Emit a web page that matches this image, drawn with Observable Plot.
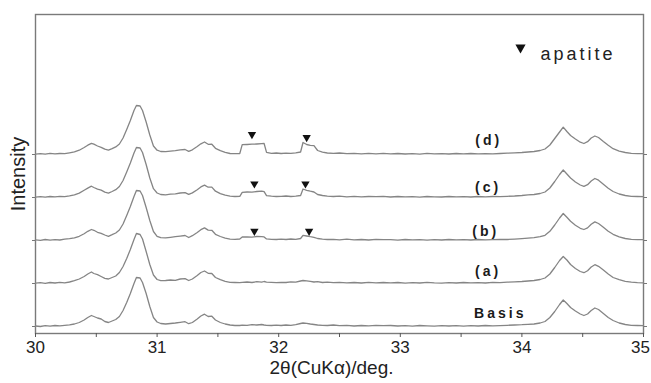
<!DOCTYPE html>
<html><head><meta charset="utf-8">
<script src="https://cdn.jsdelivr.net/npm/d3@7"></script>
<script src="https://cdn.jsdelivr.net/npm/@observablehq/plot@0.6"></script>
<style>
body{margin:0;background:#fff;}
g[aria-description="trace-label"] text{letter-spacing:3px;}
g[aria-description="legend-text"] text{letter-spacing:3px;}
</style></head><body><div id="chart"></div>
<script>
// 2θ grid (deg.)
const twoTheta = [
  30.00, 30.04, 30.08, 30.12, 30.16, 30.20, 30.24, 30.28, 30.32, 30.36,
  30.40, 30.43, 30.46, 30.48, 30.51, 30.54, 30.57, 30.60, 30.63, 30.66,
  30.69, 30.72, 30.75, 30.78, 30.81, 30.83, 30.86, 30.88, 30.91, 30.94,
  30.97, 31.00, 31.03, 31.07, 31.11, 31.15, 31.19, 31.23, 31.26, 31.29,
  31.33, 31.36, 31.39, 31.42, 31.45, 31.48, 31.52, 31.56, 31.60, 31.64,
  31.68, 31.70, 31.74, 31.78, 31.82, 31.86, 31.88, 31.90, 31.94, 31.98,
  32.02, 32.06, 32.10, 32.14, 32.18, 32.20, 32.23, 32.26, 32.29, 32.32,
  32.36, 32.40, 32.45, 32.50, 32.56, 32.62, 32.68, 32.74, 32.80, 32.86,
  32.92, 32.98, 33.04, 33.10, 33.16, 33.22, 33.28, 33.34, 33.40, 33.46,
  33.52, 33.58, 33.64, 33.70, 33.76, 33.82, 33.88, 33.94, 34.00, 34.05,
  34.10, 34.15, 34.19, 34.23, 34.27, 34.31, 34.34, 34.37, 34.40, 34.44,
  34.48, 34.51, 34.54, 34.57, 34.60, 34.63, 34.67, 34.71, 34.75, 34.80,
  34.85, 34.90, 34.95, 35.00
];

const seriesNames = ["Basis", "(a)", "(b)", "(c)", "(d)"];
// vertical stacking offsets (intensity units)
const offsets = [7, 50, 93, 136, 179];

const intensityBasis = [
  0.5, 0, 0.8, 0.3, 1, 0.6, 1.2, 1.6, 2.5, 4,
  6.5, 9, 11, 10, 8.5, 7.5, 5, 4, 5.5, 7,
  10, 16, 24, 33, 43, 49, 48.5, 44, 33, 20,
  9, 4.5, 3, 2.5, 3, 3.5, 4.2, 4.8, 2.8, 4,
  7.5, 10.5, 12.3, 10, 10.3, 6.5, 4, 2.5, 1.5, 1,
  1, 1.4, 1.2, 1.8, 1.5, 2, 1.5, 1.2, 1, 1.3,
  1, 1.5, 1.2, 1.8, 3, 3.5, 3.2, 2.5, 2, 1.5,
  1.2, 1, 1.5, 0.8, 1.2, 0.5, 1, 0.6, 1.2, 0.8,
  1, 0.5, 0.8, 0.4, 1, 0.6, 0.3, 0.8, 0.5, 0.9,
  0.4, 0.8, 0.5, 1, 0.6, 0.9, 1.2, 1.5, 1.8, 2.2,
  2.5, 3.5, 5, 9, 15, 22, 26.5, 23, 19, 15.5,
  12.5, 11, 12.5, 16, 18.5, 17, 13, 9, 6, 3.5,
  2, 1.2, 1, 0.8
];
const intensityA = [
  0.3, 0.8, 0.2, 1, 0.5, 1.1, 0.7, 1.5, 2.8, 4.5,
  7, 9.5, 11.5, 10, 8.8, 7, 5.2, 4.5, 6, 7.5,
  11, 17, 25, 34, 44, 50, 49, 44.5, 32, 19,
  8.5, 4, 2.8, 3, 3.5, 3.2, 4.5, 4.8, 3, 4.5,
  8, 11, 12.5, 10.2, 10, 6, 3.8, 2.2, 1.2, 1,
  0.8, 1.2, 1.5, 1, 1.8, 1.3, 2, 1.4, 1.2, 0.8,
  1.2, 1, 1.6, 1.4, 2.5, 3, 2.6, 2.2, 1.5, 1.8,
  1, 1.4, 0.8, 1.2, 0.6, 1, 0.5, 1.1, 0.7, 1,
  0.6, 1, 0.4, 0.9, 0.5, 1.1, 0.6, 0.4, 0.9, 0.5,
  1, 0.6, 0.9, 0.5, 1.1, 0.8, 1.3, 1.6, 2, 2.5,
  3, 4, 5.5, 9.5, 16, 23, 27, 23.5, 19, 15,
  12, 10.8, 12.8, 16.5, 18.8, 17.2, 13.5, 9.5, 6, 3.8,
  2.2, 1.3, 0.9, 0.7
];
const intensityB = [
  0.6, 0.2, 1, 0.4, 0.9, 0.5, 1.3, 1.8, 2.6, 4.2,
  6.8, 9.2, 11, 10.2, 8.2, 7.2, 5.5, 4.2, 5.8, 7.5,
  10.5, 16.5, 25, 34, 44, 50, 49.5, 45, 33, 20,
  9, 4.2, 2.8, 2.6, 3.2, 3.8, 4.4, 5, 3, 4.8,
  8, 10.8, 12.6, 10.4, 10.2, 6.2, 4, 2.4, 1.3, 1.2,
  1.5, 3.5, 3.6, 3.4, 4, 3.8, 3.6, 1.6, 1.2, 1,
  1.4, 1, 1.5, 1.2, 2, 5.2, 4.5, 3.8, 3.2, 2,
  1.4, 1, 1.2, 0.7, 1.3, 0.6, 1, 0.5, 1.1, 0.8,
  0.9, 0.4, 1, 0.6, 0.8, 0.3, 0.9, 0.5, 1, 0.6,
  0.8, 0.5, 1, 0.7, 0.9, 1.2, 1, 1.4, 1.9, 2.4,
  2.8, 3.8, 5.2, 9.2, 15.5, 22.5, 27, 23.2, 19.2, 15.2,
  12.2, 11, 12.6, 16.2, 18.6, 17, 13.2, 9.2, 6.2, 3.6,
  2, 1.1, 0.9, 0.8
];
const intensityC = [
  0.4, 0.9, 0.3, 1, 0.6, 1.2, 0.8, 1.6, 2.7, 4.4,
  7.2, 9.4, 11.3, 10, 8.4, 7.3, 5.4, 4.4, 6, 7.8,
  11, 17, 25.5, 34.5, 44.5, 50, 49.5, 45, 33, 19.5,
  8.8, 4.5, 3, 2.7, 3.3, 3.6, 4.5, 4.9, 3.1, 4.6,
  7.8, 10.6, 12.4, 10.3, 10.4, 6.3, 3.9, 2.3, 1.4, 1,
  1.2, 5.2, 5.5, 5.4, 6, 6.3, 5.8, 1.8, 1.3, 1,
  1.2, 1.5, 1, 1.4, 2, 8.5, 7.2, 6.3, 5.5, 3,
  2, 1.4, 1, 1.3, 0.7, 1.2, 0.6, 1, 0.8, 1.1,
  0.5, 1, 0.6, 0.9, 0.4, 1, 0.7, 0.5, 1, 0.6,
  0.9, 0.5, 1, 0.6, 1, 0.8, 1.2, 1.5, 2, 2.6,
  3, 4, 5.5, 9.5, 16, 23, 27.5, 23.5, 19.5, 15.5,
  12.5, 11.2, 12.8, 16.5, 19, 17.3, 13.3, 9.3, 6, 3.5,
  2, 1.2, 1, 0.8
];
const intensityD = [
  0.3, 0.8, 0.4, 1.1, 0.6, 1, 0.9, 1.7, 2.6, 4.3,
  7, 9.3, 11.2, 10.3, 8.5, 7.2, 5.3, 4.3, 5.8, 7.6,
  10.5, 16.5, 25, 34, 44, 49, 48.5, 44, 32.5, 19.5,
  8.5, 4.3, 3, 2.8, 3.3, 3.8, 4.6, 5, 3.2, 4.7,
  8, 10.7, 12.5, 10.2, 10.3, 6.2, 3.8, 2.2, 1, 0.8,
  1, 9.8, 10, 10.3, 10.5, 10.8, 11, 2.2, 1.2, 1.5,
  1, 1.4, 1.2, 1.6, 2.5, 12, 10, 9.2, 8.8, 4,
  2.3, 1.5, 1.2, 1.5, 0.8, 1.2, 0.6, 1.1, 0.7, 1.2,
  0.6, 1, 0.5, 0.9, 0.4, 1.1, 0.6, 0.9, 0.5, 1,
  0.7, 1, 0.6, 0.9, 0.7, 1, 1.3, 1.6, 2, 2.5,
  3, 4, 5.5, 9.5, 16, 22.5, 27.3, 23, 19, 15.5,
  12.3, 11, 12.8, 16.5, 18.5, 17, 13, 9.2, 5.8, 3.4,
  2, 1.2, 0.9, 0.8
];
const intensities = [intensityBasis, intensityA, intensityB, intensityC, intensityD];

// apatite reflections marked with ▼
const markerSeries = ["(b)", "(b)", "(c)", "(c)", "(d)", "(d)"];
const markerTheta = [31.80, 32.25, 31.80, 32.22, 31.78, 32.23];
const markerLevel = [9.3, 9.3, 13.7, 13.7, 20, 17];

// curve labels
const labelTheta = [33.81, 33.71, 33.69, 33.71, 33.715];
const labelLevel = [12.7, 12.3, 9.3, 10.3, 14];

const xTicks = [30, 31, 32, 33, 34];
const xLastTick = [35];
const xMinorTicks = [30.5, 31.5, 32.5, 33.5, 34.5];

const rows = [];
seriesNames.forEach((name, i) => intensities[i].forEach((v, j) =>
  rows.push({series: name, x: twoTheta[j], y: offsets[i] + v})));
const offsetOf = Object.fromEntries(seriesNames.map((n, i) => [n, offsets[i]]));
const markers = markerSeries.map((s, i) => ({x: markerTheta[i], y: offsetOf[s] + markerLevel[i]}));
const labels = seriesNames.map((s, i) => ({text: s, x: labelTheta[i], y: offsets[i] + labelLevel[i]}));

const tickText = {frameAnchor: "bottom", lineAnchor: "top", dy: 7, fontSize: 17, fill: "#222", text: d => String(d)};

const chart = Plot.plot({
  width: 651, height: 383,
  marginLeft: 35, marginRight: 8, marginTop: 14, marginBottom: 50,
  style: {fontFamily: "'Liberation Sans', Arial, sans-serif", background: "#fff", color: "#222"},
  x: {domain: [30, 35]},
  y: {domain: [0, 319]},
  marks: [
    Plot.frame({stroke: "#7a7a7a", strokeWidth: 1.4}),
    Plot.axisX({ticks: [...xTicks, ...xLastTick], tickSize: 4, tickFormat: () => "", label: null, stroke: "#555"}),
    Plot.axisX({ticks: xMinorTicks, tickSize: 4, tickFormat: () => "", label: null, stroke: "#555"}),
    Plot.text(xTicks, {x: d => d, ...tickText}),
    Plot.text(xLastTick, {x: d => d, ...tickText, dx: -3}),
    Plot.axisY({ticks: offsets, tickSize: 3, tickFormat: () => "", label: null, stroke: "#777"}),
    Plot.axisY({anchor: "right", ticks: offsets, tickSize: 3, tickFormat: () => "", label: null, stroke: "#777"}),
    Plot.line(rows, {x: "x", y: "y", z: "series", stroke: "#858585", strokeWidth: 1.3}),
    Plot.dot(markers, {x: "x", y: "y", symbol: "triangle", rotate: 180, r: 3.1, fill: "#111", stroke: "none"}),
    Plot.text(labels, {x: "x", y: "y", text: "text", fontWeight: "bold", fontSize: 14, dx: 1.5, fill: "#1a1a1a", ariaDescription: "trace-label"}),
    Plot.dot([0], {frameAnchor: "top-right", dx: -123, dy: 33, symbol: "triangle", rotate: 180, r: 3.8, fill: "#111", stroke: "none"}),
    Plot.text(["apatite"], {frameAnchor: "top-right", text: d => d, textAnchor: "start", dx: -103, dy: 33, fontSize: 18, fill: "#222", ariaDescription: "legend-text"}),
    Plot.text(["Intensity"], {frameAnchor: "left", text: d => d, textAnchor: "middle", rotate: -90, dx: -17, fontSize: 20, fill: "#222"}),
    Plot.text(["2θ(CuKα)/deg."], {frameAnchor: "bottom", text: d => d, dy: 40, dx: -8, fontSize: 19, fill: "#222"})
  ]
});
document.getElementById("chart").append(chart);
</script></body></html>
